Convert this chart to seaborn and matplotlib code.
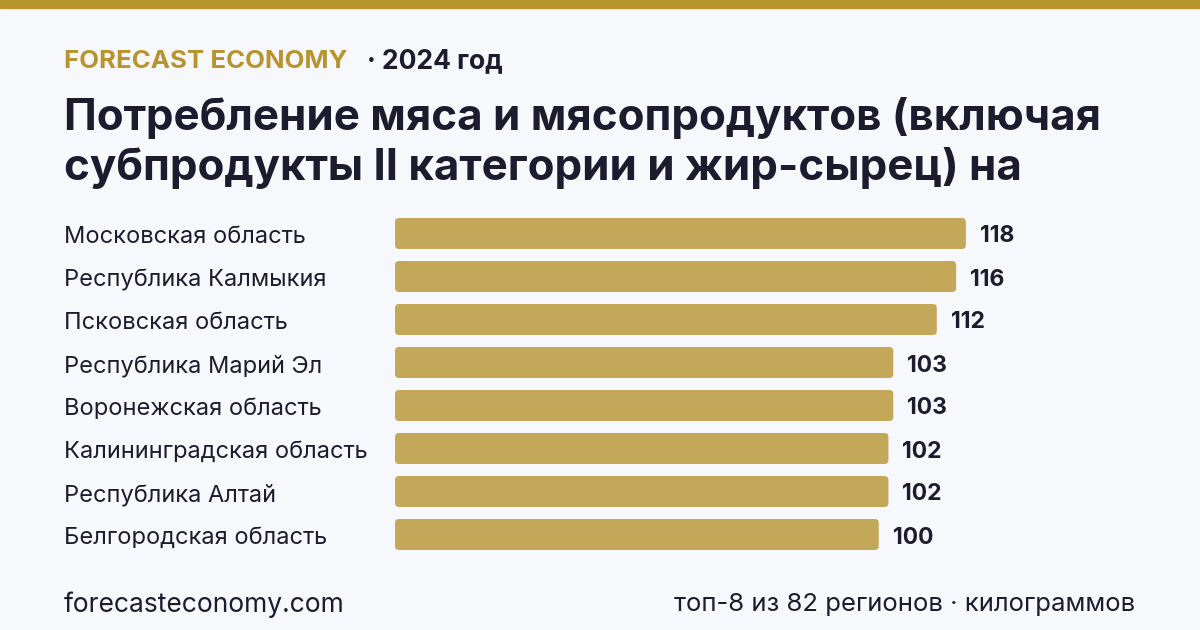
import pandas as pd
import seaborn as sns
import matplotlib.pyplot as plt
from matplotlib.patches import FancyBboxPatch, Rectangle

# Данные
regiony = ['Московская область', 'Республика Калмыкия', 'Псковская область',
           'Республика Марий Эл', 'Воронежская область', 'Калининградская область',
           'Республика Алтай', 'Белгородская область']
znacheniya = [118, 116, 112, 103, 103, 102, 102, 100]

data = pd.DataFrame({'Регион': regiony, 'кг': znacheniya})

FON = '#f7f8fc'
ZOLOTO = '#c4a85a'
ZOLOTO_T = '#b8942e'
TEKST = '#1c1c2e'

sns.set_theme(style='white')
plt.rcParams['font.family'] = ['Inter', 'DejaVu Sans']

W, H = 1200, 630
fig = plt.figure(figsize=(12, 6.3), dpi=100, facecolor=FON)

# полоса сверху
fig.patches.append(Rectangle((0, 1 - 8 / H), 1, 8 / H, transform=fig.transFigure,
                             color=ZOLOTO_T, zorder=5))

# оси под бары
x0, x1 = 395, 1140
y_top, y_bot = 212, 556
ax = fig.add_axes([x0 / W, 1 - y_bot / H, (x1 - x0) / W, (y_bot - y_top) / H])
ax.set_facecolor(FON)

sns.barplot(data=data, x='кг', y='Регион', color=ZOLOTO, width=0.72,
            saturation=1, ax=ax, errorbar=None)

xmax = 154
ax.set_xlim(0, xmax)
ax.set_ylim(7.5, -0.5)

# скругление баров
px_x = xmax / (x1 - x0)
px_y = 8 / (y_bot - y_top)
for p in list(ax.patches):
    bx, by = p.get_x(), p.get_y()
    bw, bh = p.get_width(), p.get_height()
    p.remove()
    ax.add_patch(FancyBboxPatch((bx, by), bw, bh,
                                boxstyle='round,pad=0,rounding_size=%f' % (4 * px_x),
                                mutation_aspect=px_y / px_x,
                                facecolor=ZOLOTO, edgecolor='none'))

for i, v in enumerate(znacheniya):
    ax.text(v + 14 * px_x, i + 3 * px_y, str(v), va='center', ha='left', fontsize=16.5,
            fontweight='bold', color=TEKST)

ax.set_xticks([])
ax.set_yticks([])
ax.set_xlabel('')
ax.set_ylabel('')
sns.despine(ax=ax, left=True, bottom=True)

# подписи регионов
for i, r in enumerate(regiony):
    yy = 237 + i * 43
    fig.text(64 / W, 1 - yy / H, r, ha='left', va='center', fontsize=17, color=TEKST)

# шапка
fig.text(64 / W, 1 - 61 / H, 'FORECAST ECONOMY', ha='left', va='center',
         fontsize=18.6, fontweight='bold', color=ZOLOTO_T)
fig.text(367 / W, 1 - 61 / H, '· 2024 год', ha='left', va='center',
         fontsize=19, fontweight='bold', color=TEKST)

fig.text(64 / W, 1 - 118 / H, 'Потребление мяса и мясопродуктов (включая',
         ha='left', va='center', fontsize=31.6, fontweight='bold', color=TEKST)
fig.text(64 / W, 1 - 168 / H, 'субпродукты II категории и жир-сырец) на',
         ha='left', va='center', fontsize=31.6, fontweight='bold', color=TEKST)

# подвал
fig.text(64 / W, 1 - 605 / H, 'forecasteconomy.com', ha='left', va='center',
         fontsize=19, color=TEKST)
fig.text(1135 / W, 1 - 605 / H, 'топ-8 из 82 регионов · килограммов', ha='right',
         va='center', fontsize=18.5, color=TEKST)

fig.savefig('out.png', dpi=100, facecolor=FON)
